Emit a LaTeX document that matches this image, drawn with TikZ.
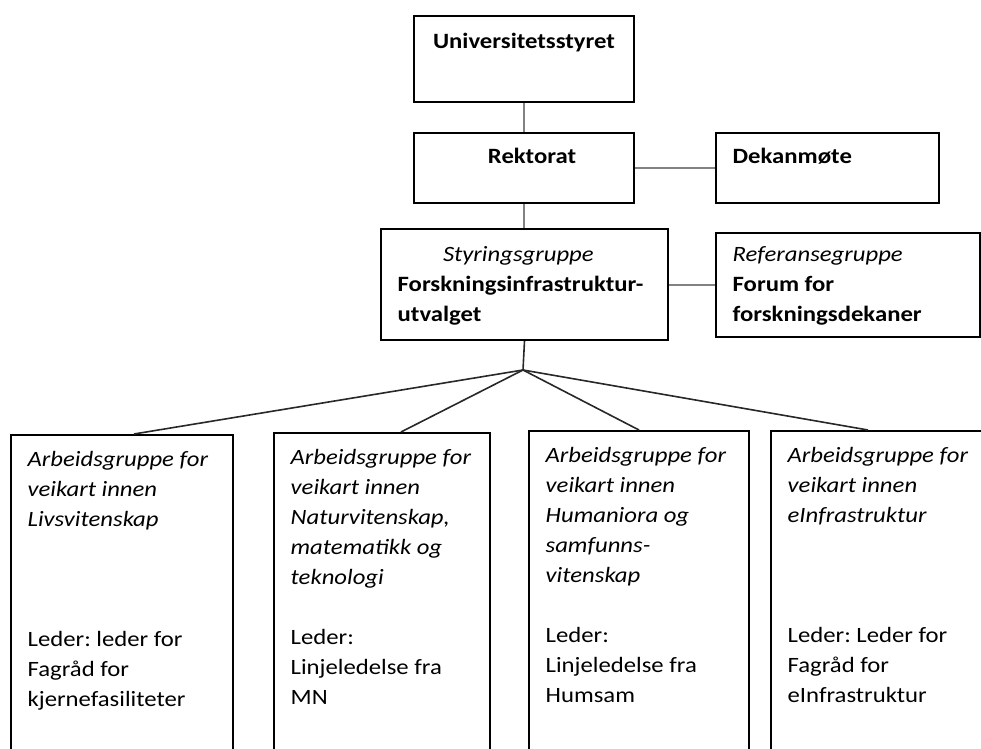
\documentclass[tikz,border=0pt]{standalone}
\usepackage{fontspec}
\setmainfont{Carlito}[FakeStretch=1.13]
\frenchspacing

\tikzset{every picture/.style={line width=0.75pt}}
\tikzset{
  orgbox/.style={draw, line width=1.5pt, anchor=north west, inner xsep=12.5pt, inner ysep=0pt,
    font=\fontsize{16.4pt}{22.5pt}\selectfont},
  link/.style={draw={rgb, 255:red, 130; green, 130; blue, 130 }, line width=1.5pt},
  fan/.style={draw={rgb, 255:red, 40; green, 40; blue, 40 }, line width=1.2pt}
}
% width, height, alignment, first baseline, text
\newcommand{\orgtext}[5]{\begin{minipage}[t][#2][t]{#1}#3\rule{0pt}{#4}#5\end{minipage}}

\begin{document}
\begin{tikzpicture}[x=0.75pt,y=0.75pt,yscale=-1,xscale=1]
\clip (0,0) rectangle (981,749);

% top of the chart
\node[orgbox] (univ) at (413,15) {\orgtext{140pt}{64.5pt}{\centering}{24.75pt}{\textbf{Universitetsstyret}}};
\node[orgbox] (rekt) at (413,132) {\orgtext{140pt}{52.5pt}{\centering}{22.5pt}{\hspace*{12pt}\textbf{Rektorat}}};
\node[orgbox] (dekan) at (715,132) {\orgtext{142.25pt}{52.5pt}{\raggedright}{22.5pt}{\textbf{Dekanmøte}}};
\node[orgbox] (styr) at (380,228) {\orgtext{190.25pt}{83.25pt}{\raggedright}{24pt}{\hspace*{34pt}\textit{Styringsgruppe}\\
  \textbf{Forskningsinfrastruktur-}\\ \textbf{utvalget}}};
\node[orgbox] (refg) at (715,232) {\orgtext{173pt}{78pt}{\raggedright}{21pt}{\textit{Referansegruppe}\\
  \textbf{Forum for}\\ \textbf{forskningsdekaner}}};

% working groups
\node[orgbox] (livs) at (10,434) {\orgtext{141.5pt}{300pt}{\raggedright}{23.25pt}{\textit{Arbeidsgruppe for}\\
  \textit{veikart innen}\\ \textit{Livsvitenskap}\\[67.5pt]
  Leder: leder for\\ Fagråd for\\ kjernefasiliteter}};
\node[orgbox] (natv) at (273,432) {\orgtext{137pt}{300pt}{\raggedright}{23.25pt}{\textit{Arbeidsgruppe for}\\
  \textit{veikart innen}\\ \textit{Naturvitenskap,}\\ \textit{matematikk og}\\ \textit{teknologi}\\[22.5pt]
  Leder:\\ Linjeledelse fra\\ MN}};
\node[orgbox] (hums) at (528,430) {\orgtext{140pt}{300pt}{\raggedright}{23.25pt}{\textit{Arbeidsgruppe for}\\
  \textit{veikart innen}\\ \textit{Humaniora og}\\ \textit{samfunns-}\\ \textit{vitenskap}\\[22.5pt]
  Leder:\\ Linjeledelse fra\\ Humsam}};
\node[orgbox] (einf) at (770,430) {\orgtext{155pt}{300pt}{\raggedright}{23.25pt}{\textit{Arbeidsgruppe for}\\
  \textit{veikart innen}\\ \textit{eInfrastruktur}\\[67.5pt]
  Leder: Leder for\\ Fagråd for\\ eInfrastruktur}};

% connectors
\draw[link] (univ.south) -- (rekt.north);
\draw[link] (rekt.south) -- (rekt.south |- styr.north);
\draw[link] (rekt.east) -- (dekan.west);
\draw[link] (styr.east) -- (styr.east -| refg.west);
\coordinate (fork) at (523,370);
\draw[fan] (styr.south) -- (fork);
\draw[fan] (fork) -- ([xshift=9pt]livs.north);
\draw[fan] (fork) -- ([xshift=14.25pt]natv.north);
\draw[fan] (fork) -- (hums.north);
\draw[fan] (fork) -- ([xshift=-17.25pt]einf.north);

\end{tikzpicture}
\end{document}
